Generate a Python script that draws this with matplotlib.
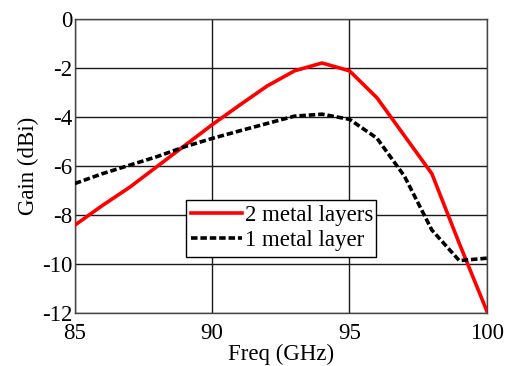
import numpy as np
import matplotlib.pyplot as plt

plt.rcParams['font.family'] = ['Liberation Serif', 'DejaVu Serif']
plt.rcParams['axes.unicode_minus'] = False

freq = [85, 86, 87, 88, 89, 90, 91, 92, 93, 94, 95, 96, 97, 98, 99, 100]
gain_2layers = [-8.4, -7.6, -6.85, -6.0, -5.15, -4.3, -3.5, -2.72, -2.1, -1.78, -2.1, -3.2, -4.75, -6.3, -9.15, -11.9]
gain_1layer = [-6.7, -6.3, -5.95, -5.6, -5.2, -4.86, -4.55, -4.25, -3.95, -3.87, -4.08, -4.85, -6.4, -8.6, -9.85, -9.75]

fig = plt.figure(figsize=(5.06, 3.66), dpi=100)
ax = fig.add_axes([0.148, 0.144, 0.814, 0.803])

ax.plot(freq, gain_2layers, color='#ff0000', lw=2.6, label='2 metal layers', zorder=3)
ax.plot(freq, gain_1layer, color='black', lw=2.6, ls=(0, (1.8, 0.8)), label='1 metal layer', zorder=3)

ax.set_xlim(85, 100)
ax.set_ylim(-12, 0)
ax.set_xticks([85, 90, 95, 100])
ax.set_yticks([-12, -10, -8, -6, -4, -2, 0])
ax.grid(True, color='#1a1a1a', lw=1.0)
for s in ax.spines.values():
    s.set_color('#444444')
    s.set_linewidth(1.0)
ax.tick_params(length=0, labelsize=16.5, pad=2)
ax.tick_params(axis='x', pad=7)
ax.set_xlabel('Freq (GHz)', fontsize=16.5, labelpad=0)
ax.set_ylabel('Gain (dBi)', fontsize=16.5, labelpad=2)

leg = ax.legend(loc='lower left', bbox_to_anchor=(0.269, 0.193, 0.463, 0.216), mode='expand',
                fontsize=16.5, frameon=True, fancybox=False, borderpad=0.25, handlelength=2.2,
                handletextpad=0.15, labelspacing=0.15, borderaxespad=0)
leg.get_frame().set_edgecolor('black')
leg.get_frame().set_linewidth(1.0)
leg.get_frame().set_alpha(1)

fig.savefig('out.png', dpi=100)
